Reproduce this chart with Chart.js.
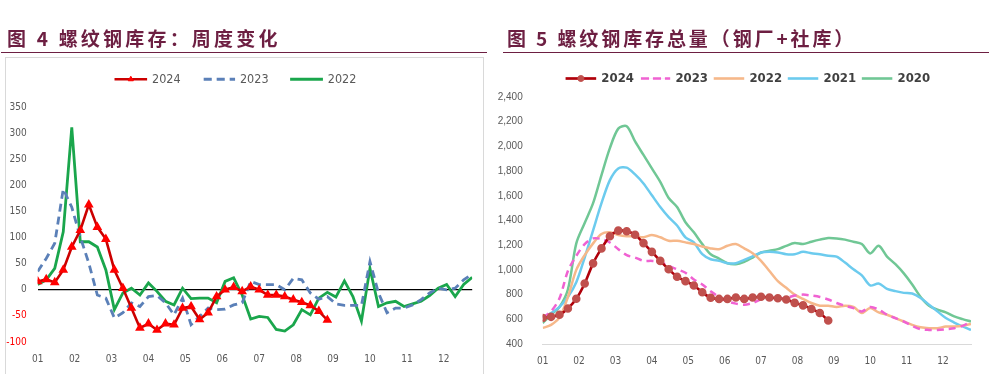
<!DOCTYPE html>
<html lang="zh-CN">
<head>
<meta charset="utf-8">
<script src="https://cdn.jsdelivr.net/npm/chart.js@4.4.1/dist/chart.umd.min.js"></script>
<style>
  html, body { margin: 0; padding: 0; background: #fff; }
  body { width: 1003px; height: 374px; position: relative; overflow: hidden; }
  .titulo { position: absolute; top: 24px; font-family: "Noto Sans CJK SC", sans-serif; font-weight: 700;
            font-size: 19px; letter-spacing: 3.2px; line-height: 28px; color: #6d1f42; white-space: pre; }
  .linea { position: absolute; top: 52px; height: 0; border-top: 1.5px solid #6d1f42; }
  .caja { position: absolute; left: 5px; top: 57px; width: 477px; height: 330px; border: 1px solid #d9d9d9; }
  .lienzo { position: absolute; }
</style>
</head>
<body>
<div class="caja"></div>
<div class="lienzo" style="left:0px; top:50px;"><canvas id="graficoSemanal" width="484" height="324"></canvas></div>
<div class="lienzo" style="left:490px; top:62px;"><canvas id="graficoTotal" width="513" height="312"></canvas></div>
<div class="titulo" style="left:7px;">图 4 螺纹钢库存：周度变化</div>
<div class="linea" style="left:1px; width:486px;"></div>
<div class="titulo" style="left:507px; letter-spacing:2.9px;">图 5 螺纹钢库存总量（钢厂+社库）</div>
<div class="linea" style="left:503px; width:486px;"></div>

<script>
// semanas del año y etiquetas de mes
const semanas = Array.from({ length: 52 }, (_, i) => i + 1);
const meses = ['01', '02', '03', '04', '05', '06', '07', '08', '09', '10', '11', '12'];

// figura 4: variación semanal (万吨)
const cambio2024 = [16, 20, 14, 38, 82, 114, 163, 120, 97, 38, 3, -35, -73, -65, -77, -65, -67, -35, -32, -57,
  -44, -13, 0, 5, -3, 6, 0, -10, -10, -13, -19, -24, -30, -41, -58];
const cambio2023 = [35, 60, 89, 193, 158, 101, 51, -10, -16, -54, -44, -25, -32, -13, -11, -25, -48, -16, -67, -51,
  -35, -38, -37, -29, -25, 16, 10, 10, 10, 0, 22, 19, -6, -18, -13, -27, -30, -30, -30, 54,
  -6, -44, -35, -35, -29, -19, -6, 3, 0, 3, 19, 30];
const cambio2022 = [10, 19, 41, 111, 311, 92, 92, 82, 38, -38, -6, 3, -10, 13, -3, -22, -29, 3, -17, -16,
  -16, -25, 16, 23, -10, -56, -51, -53, -76, -79, -67, -38, -48, -16, -5, -14, 17, -13, -60, 41,
  -32, -25, -22, -32, -27, -22, -11, 3, 10, -13, 10, 24];

// figura 5: inventario total (钢厂+社库)
const total2024 = [610, 620, 637, 688, 766, 890, 1053, 1174, 1272, 1318, 1313, 1285, 1217, 1146, 1073, 1005, 945, 909, 874, 819,
  774, 765, 765, 776, 765, 776, 782, 776, 770, 760, 733, 713, 684, 651, 590];
const total2023 = [615, 665, 770, 991, 1114, 1209, 1255, 1250, 1222, 1168, 1119, 1100, 1073, 1073, 1065, 1032, 1005, 977, 923, 882,
  827, 781, 746, 727, 718, 732, 760, 765, 765, 773, 792, 800, 792, 781, 760, 732, 710, 691, 664, 700,
  678, 637, 610, 582, 547, 520, 514, 514, 520, 528, 547, 582];
const total2022 = [530, 555, 615, 780, 1000, 1120, 1215, 1291, 1304, 1282, 1272, 1272, 1264, 1282, 1264, 1236, 1236, 1223, 1209, 1190,
  1174, 1168, 1195, 1209, 1174, 1135, 1073, 991, 909, 855, 800, 765, 732, 710, 710, 700, 710, 700, 651, 691,
  656, 637, 610, 582, 555, 536, 528, 528, 541, 541, 547, 563];
const total2021 = [615, 650, 700, 780, 900, 1100, 1320, 1540, 1727, 1822, 1828, 1773, 1700, 1604, 1509, 1427, 1359, 1264, 1223, 1127,
  1086, 1073, 1054, 1054, 1081, 1110, 1141, 1146, 1141, 1127, 1127, 1146, 1135, 1127, 1114, 1108, 1059, 1005, 956, 874,
  890, 847, 828, 814, 809, 773, 719, 664, 610, 574, 542, 514];
const total2020 = [569, 637, 700, 841, 1215, 1380, 1540, 1768, 1986, 2144, 2163, 2040, 1931, 1822, 1713, 1582, 1509, 1386, 1304, 1209,
  1127, 1092, 1054, 1046, 1065, 1100, 1141, 1155, 1168, 1195, 1217, 1209, 1228, 1245, 1258, 1255, 1245, 1228, 1209, 1133,
  1195, 1108, 1046, 972, 882, 781, 710, 678, 656, 623, 601, 582];

const fuenteEstrecha = "'Liberation Sans Narrow', 'DejaVu Sans Condensed', sans-serif";

// dibuja el marcador del punto encima de la línea de la leyenda
const marcadorLeyenda = {
  id: 'marcadorLeyenda',
  afterDraw(chart) {
    const leyenda = chart.legend;
    if (!leyenda || !leyenda.legendHitBoxes) return;
    const ctx = chart.ctx;
    const opciones = leyenda.options.labels;
    chart.data.datasets.forEach((ds, i) => {
      if (!ds.pointRadius) return;
      const caja = leyenda.legendHitBoxes[i];
      ctx.save();
      ctx.fillStyle = ds.pointBackgroundColor;
      ctx.strokeStyle = ds.pointBorderColor;
      Chart.helpers.drawPoint(ctx, { pointStyle: ds.pointStyle, radius: ds.pointRadius, borderWidth: 1, rotation: 0 },
        caja.left + opciones.boxWidth / 2, caja.top + opciones.font.size / 2);
      ctx.restore();
    });
  }
};

// corre la leyenda sin tocar el área del gráfico
function moverLeyenda(dx, dy) {
  return {
    id: 'moverLeyenda',
    afterLayout(chart) {
      chart.legend.left += dx;
      chart.legend.right += dx;
      chart.legend.top += dy;
      chart.legend.bottom += dy;
    }
  };
}

function ejeMeses(alto, colorBorde) {
  return {
    type: 'linear', min: 1, max: 52,
    afterBuildTicks: s => { s.ticks = meses.map((m, i) => ({ value: 1 + i * 52 / 12 })); },
    ticks: { callback: (v, i) => meses[i], autoSkip: false, maxRotation: 0, padding: 3, color: '#595959',
             font: { family: fuenteEstrecha, size: 10 } },
    grid: { display: false },
    border: colorBorde ? { display: true, color: colorBorde, width: 1 } : { display: false },
    afterFit: s => { s.height = alto; }
  };
}

function espaciador(alto) {
  return {
    axis: 'x', type: 'linear', position: 'top', display: true,
    ticks: { display: false }, grid: { display: false }, border: { display: false },
    afterFit: s => { s.height = alto; }
  };
}

new Chart(document.getElementById('graficoSemanal'), {
  type: 'line',
  data: {
    labels: semanas,
    datasets: [
      { label: '2024', data: cambio2024, borderColor: '#cc0000', backgroundColor: '#ff0000', borderWidth: 2.6,
        pointStyle: 'triangle', pointRadius: 3, pointBackgroundColor: '#ff0000', pointBorderColor: '#ff0000', tension: 0 },
      { label: '2023', data: cambio2023, borderColor: '#5b80b8', backgroundColor: '#5b80b8', borderWidth: 2.8,
        borderDash: [8, 5], pointRadius: 0, tension: 0 },
      { label: '2022', data: cambio2022, borderColor: '#1aa64c', backgroundColor: '#1aa64c', borderWidth: 2.8,
        pointRadius: 0, tension: 0 }
    ]
  },
  options: {
    responsive: false,
    animation: false,
    layout: { padding: { left: 0, right: 11.8, top: 0, bottom: 0 } },
    plugins: {
      legend: {
        labels: { boxWidth: 30, boxHeight: 0.1, padding: 23, color: '#595959',
                  font: { family: fuenteEstrecha, size: 12.5 } }
      },
      tooltip: { enabled: false }
    },
    scales: {
      x: ejeMeses(32, null),
      espacio: espaciador(11.5),
      y: {
        min: -100, max: 350,
        ticks: { stepSize: 50, padding: 11, color: c => c.tick.value < 0 ? '#ff0000' : '#595959',
                 font: { family: fuenteEstrecha, size: 10 } },
        grid: { color: c => c.tick.value === 0 ? '#000000' : 'rgba(0,0,0,0)', lineWidth: 1.3, drawTicks: false },
        border: { display: false },
        afterFit: s => { s.width = 37.7; }
      }
    }
  },
  plugins: [marcadorLeyenda]
});

new Chart(document.getElementById('graficoTotal'), {
  type: 'line',
  data: {
    labels: semanas,
    datasets: [
      { label: '2024', data: total2024, borderColor: '#b0000a', backgroundColor: '#b0000a', borderWidth: 2.6,
        pointStyle: 'circle', pointRadius: 3, pointBackgroundColor: '#c0504d', pointBorderColor: '#c0504d', tension: 0.3 },
      { label: '2023', data: total2023, borderColor: '#f062d2', backgroundColor: '#f062d2', borderWidth: 2.5,
        borderDash: [7, 5], pointRadius: 0, tension: 0.3 },
      { label: '2022', data: total2022, borderColor: '#f6b88a', backgroundColor: '#f6b88a', borderWidth: 2.5,
        pointRadius: 0, tension: 0.3 },
      { label: '2021', data: total2021, borderColor: '#6ccbee', backgroundColor: '#6ccbee', borderWidth: 2.5,
        pointRadius: 0, tension: 0.3 },
      { label: '2020', data: total2020, borderColor: '#70c795', backgroundColor: '#70c795', borderWidth: 2.5,
        pointRadius: 0, tension: 0.3 }
    ]
  },
  options: {
    responsive: false,
    animation: false,
    layout: { padding: { left: 0, right: 32, top: 0, bottom: 0 } },
    plugins: {
      legend: {
        labels: { boxWidth: 28, boxHeight: 0.1, padding: 7, color: '#404040',
                  font: { family: fuenteEstrecha, size: 13, weight: 'bold' } }
      },
      tooltip: { enabled: false }
    },
    scales: {
      x: ejeMeses(30, '#d9d9d9'),
      espacio: espaciador(5),
      y: {
        min: 400, max: 2400,
        ticks: { stepSize: 200, padding: 12, color: '#595959', font: { family: "'Liberation Sans', sans-serif", size: 10 } },
        grid: { display: false },
        border: { display: false },
        afterFit: s => { s.width = 52.7; }
      }
    }
  },
  plugins: [marcadorLeyenda, moverLeyenda(18, 3)]
});
</script>
</body>
</html>
